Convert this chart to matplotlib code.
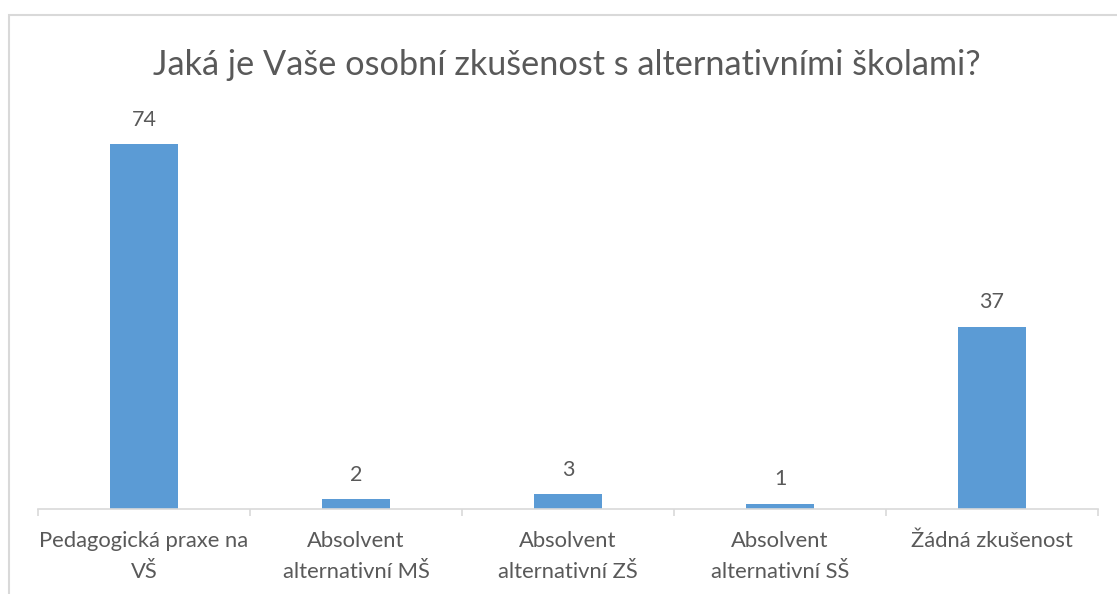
import matplotlib
matplotlib.use("Agg")
import matplotlib.pyplot as plt
from matplotlib.patches import Rectangle
import numpy as np

categories = ["Pedagogická praxe na\nVŠ", "Absolvent\nalternativní MŠ", "Absolvent\nalternativní ZŠ",
              "Absolvent\nalternativní SŠ", "Žádná zkušenost"]
values = [74, 2, 3, 1, 37]
title = "Jaká je Vaše osobní zkušenost s alternativními školami?"

plt.rcParams['font.family'] = ['Lato', 'DejaVu Sans']
TXT = "#595959"
BAR = "#5B9BD5"
GRID = "#D9D9D9"

W, H = 1117, 594
fig = plt.figure(figsize=(W/100, H/100), dpi=100)
ax = fig.add_axes([38/W, 1-509/H, (1098-38)/W, (509-114.5)/H])

x = np.arange(len(categories))
bars = ax.bar(x, values, width=0.32, color=BAR, zorder=2)
for xi, v in zip(x, values):
    ax.annotate(str(v), (xi, v), xytext=(0, 10.5), textcoords="offset points",
                ha="center", va="bottom", fontsize=15.5, color=TXT)

ax.set_xlim(-0.5, len(categories)-0.5)
ax.set_ylim(0, 80)
ax.set_yticks([])
ax.set_xticks(x)
ax.set_xticklabels(categories, fontsize=15.8, color=TXT, linespacing=1.65)
ax.set_xticks(np.arange(-0.5, len(categories), 1.0), minor=True)
ax.tick_params(axis="x", which="major", length=0, pad=16)
ax.tick_params(axis="x", which="minor", length=5, width=1.2, color=GRID)
for s in ["top", "right", "left"]:
    ax.spines[s].set_visible(False)
ax.spines["bottom"].set_color(GRID)
ax.spines["bottom"].set_linewidth(1.2)

fig.text(567/W, 1-65/H, title, ha="center", va="center", fontsize=24.7, color=TXT)

fig.patches.append(Rectangle((9/W, -0.1), 1.2, 1-15/H+0.1, transform=fig.transFigure,
                             fill=False, edgecolor=GRID, linewidth=1.5))

fig.savefig("out.png", dpi=100)
